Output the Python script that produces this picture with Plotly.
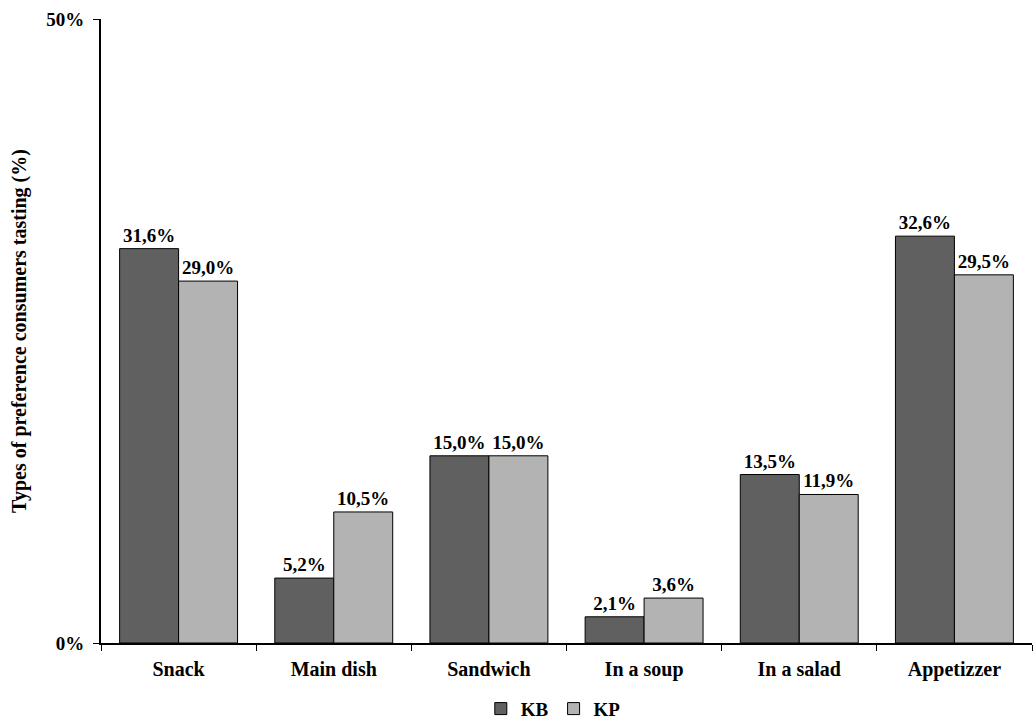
import plotly.graph_objects as go

categories = ["Snack", "Main dish", "Sandwich", "In a soup", "In a salad", "Appetizzer"]
kb_values = [31.6, 5.2, 15.0, 2.1, 13.5, 32.6]
kp_values = [29.0, 10.5, 15.0, 3.6, 11.9, 29.5]
series_names = ["KB", "KP"]
y_tick_values = [0, 50]
y_tick_labels = ["0%", "50%"]


def pct_label(v):
    return f"{v:.1f}%".replace(".", ",")


font_family = "Liberation Serif"

fig = go.Figure()
for name, vals, color in [
    (series_names[0], kb_values, "#606060"),
    (series_names[1], kp_values, "#b3b3b3"),
]:
    fig.add_trace(go.Bar(
        name=name,
        x=categories,
        y=vals,
        marker=dict(color=color, line=dict(color="black", width=1)),
        text=[pct_label(v) for v in vals],
        textposition="outside",
        cliponaxis=False,
        textfont=dict(family=font_family, size=19, color="black", weight="bold"),
    ))

fig.update_layout(
    width=1034,
    height=721,
    margin=dict(l=101, r=2, t=19, b=78, autoexpand=False),
    paper_bgcolor="white",
    plot_bgcolor="white",
    barmode="group",
    bargap=0.24,
    bargroupgap=0,
    font=dict(family=font_family, color="black"),
    showlegend=True,
    legend=dict(
        orientation="h",
        x=0.465, xanchor="left", xref="container",
        y=0.017, yanchor="middle", yref="container",
        bgcolor="rgba(0,0,0,0)",
        font=dict(family=font_family, size=19, color="black", weight="bold"),
        itemwidth=30,
        tracegroupgap=0,
    ),
    xaxis=dict(
        showline=True, linecolor="black", linewidth=2,
        ticks="outside", tickson="boundaries", ticklen=6, tickcolor="black",
        ticklabelstandoff=7,
        tickfont=dict(family=font_family, size=20, color="black", weight="bold"),
        showgrid=False,
    ),
    yaxis=dict(
        range=[0, 50],
        showline=True, linecolor="black", linewidth=2,
        ticks="outside", ticklen=6, tickcolor="black",
        ticklabelstandoff=5,
        tickvals=y_tick_values, ticktext=y_tick_labels,
        tickfont=dict(family=font_family, size=19, color="black", weight="bold"),
        showgrid=False, zeroline=False,
        title=dict(text="Types of preference consumers tasting (%)",
                   font=dict(family=font_family, size=20, color="black", weight="bold"),
                   standoff=14),
    ),
)

fig.write_html("out.html")
